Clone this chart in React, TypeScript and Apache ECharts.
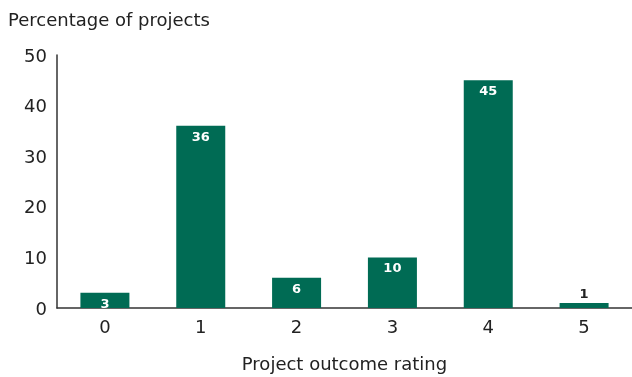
import React, { useEffect, useRef } from "react";
import * as echarts from "echarts";

const ratings = ["0", "1", "2", "3", "4", "5"];
const shares = [3, 36, 6, 10, 45, 1];
const yTicks = [0, 10, 20, 30, 40, 50];

const GREEN = "#006b54";
const INK = "#222222";
const FONT = "DejaVu Sans";

export default function App() {
  const ref = useRef<HTMLDivElement>(null);
  useEffect(() => {
    if (!ref.current) return;
    const chart = echarts.init(ref.current, null, { renderer: "svg" });
    chart.setOption({
      animation: false,
      textStyle: { fontFamily: FONT },
      graphic: [
        {
          type: "text",
          left: 8,
          top: 10,
          style: { text: "Percentage of projects", fill: INK, font: `18px '${FONT}'` },
        },
      ],
      grid: { left: 57, width: 579, top: 55, bottom: 68, containLabel: false },
      xAxis: {
        type: "category",
        data: ratings,
        name: "Project outcome rating",
        nameLocation: "middle",
        nameGap: 46,
        nameTextStyle: { color: INK, fontSize: 18, fontFamily: FONT },
        axisLine: { lineStyle: { color: "#333", width: 1.5 } },
        axisTick: { show: false },
        axisLabel: { color: INK, fontSize: 18, fontFamily: FONT, margin: 9 },
      },
      yAxis: {
        type: "value",
        min: yTicks[0],
        max: yTicks[yTicks.length - 1],
        interval: 10,
        axisLine: { show: true, lineStyle: { color: "#333", width: 1.5 } },
        axisTick: { show: false },
        splitLine: { show: false },
        axisLabel: { color: INK, fontSize: 18, fontFamily: FONT, margin: 10 },
      },
      series: [
        {
          type: "bar",
          data: shares.map((v) => ({
            value: v,
            label:
              v < 2
                ? { position: "top", color: INK, distance: 3 }
                : { position: "insideTop", color: "#fff", distance: 4 },
          })),
          barWidth: 49,
          itemStyle: { color: GREEN },
          label: {
            show: true,
            fontSize: 13,
            fontWeight: "bold",
            fontFamily: FONT,
          },
        },
      ],
    });
    return () => chart.dispose();
  }, []);
  return (
    <div
      ref={ref}
      style={{ position: "fixed", left: 0, top: 0, width: 632, height: 377 }}
    />
  );
}
